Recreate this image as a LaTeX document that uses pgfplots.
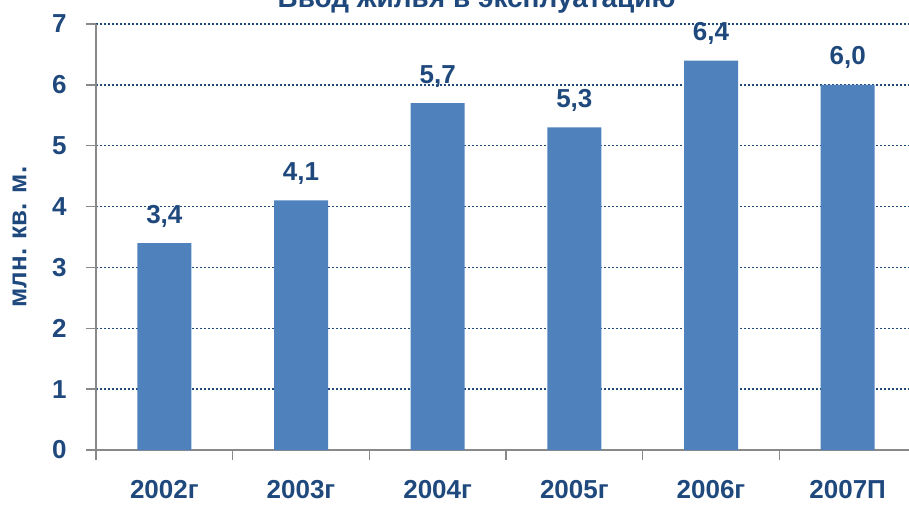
\documentclass[border=0pt]{standalone}
\usepackage{pgfplots}
\pgfplotsset{compat=1.18}
\usepackage{fontspec}
\setmainfont{Liberation Sans}
\definecolor{txt}{HTML}{1F497D}
\definecolor{barc}{HTML}{4F81BD}
\definecolor{axc}{HTML}{898989}
\newcommand\ff{\fontsize{26}{30}\selectfont\bfseries}
\begin{document}
\begin{tikzpicture}
\useasboundingbox (0pt,0pt) rectangle (909pt,504pt);
\begin{scope}
\clip (0pt,0pt) rectangle (909pt,504pt);
\begin{axis}[
  at={(96pt,54pt)}, anchor=south west,
  scale only axis, width=820pt, height=426pt,
  xmin=-0.5, xmax=5.5, ymin=0, ymax=7,
  axis x line=bottom, axis y line=left,
  axis line style={axc, line width=1.5pt, -},
  tick style={axc, line width=1.5pt},
  tick align=outside,
  major tick length=10pt,
  xtick={-0.5,0.5,1.5,2.5,3.5,4.5,5.5}, xticklabels={},
  extra x ticks={0,1,2,3,4,5},
  extra x tick labels={2002г,2003г,2004г,2005г,2006г,2007П},
  extra x tick style={major tick length=0pt},
  ytick={1,2,3,4,5,6,7},
  extra y ticks={0}, extra y tick style={grid=none},
  ymajorgrids,
  grid style={txt, line width=1.5pt, dash pattern=on 1.5pt off 2.5pt},
  /pgf/number format/assume math mode=true,
  ticklabel style={txt, font=\ff},
  xticklabel style={anchor=base, yshift=-48pt},
  yticklabel style={anchor=east, xshift=-16pt},
  ylabel={млн. кв. м.},
  ylabel style={at={(axis description cs:-0.093,0.5)}, anchor=center, txt, font=\fontsize{26}{30}\selectfont\bfseries},
  ybar, bar width=54pt,
  nodes near coords={\pgfmathprintnumber[use comma, fixed, fixed zerofill, precision=1]{\pgfplotspointmeta}},
  nodes near coords style={anchor=base, yshift=20pt, txt, font=\ff},
]
\addplot[fill=barc, draw=none] coordinates {(0,3.4) (1,4.1) (2,5.7) (3,5.3) (4,6.4) (5,6.0)};
\end{axis}
\node[anchor=base, txt, font=\fontsize{28}{32}\selectfont\bfseries] at (476.5pt,496pt) {Ввод жилья в эксплуатацию};
\end{scope}
\end{tikzpicture}
\end{document}
